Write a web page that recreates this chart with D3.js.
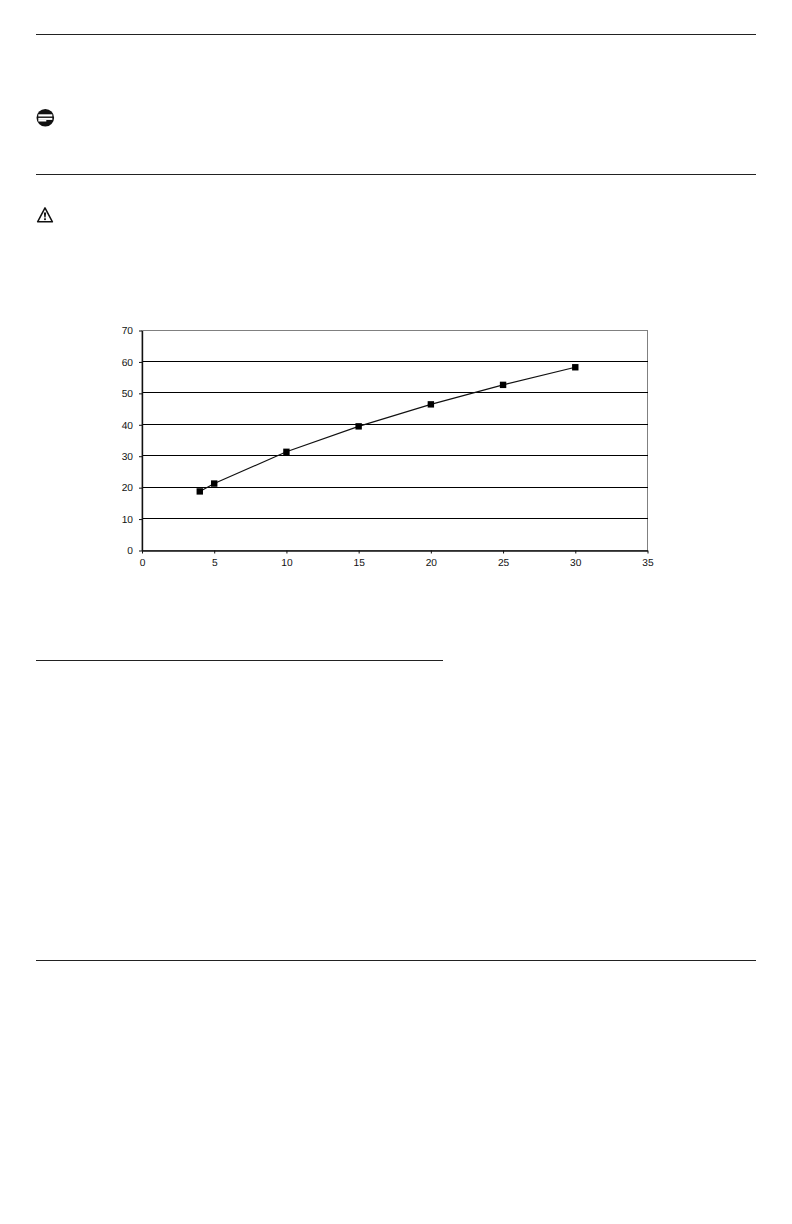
<!DOCTYPE html>
<html>
<head>
<meta charset="utf-8">
<style>
  html, body { margin: 0; padding: 0; background: #fff; }
  svg { display: block; }
  text { font-family: "Liberation Sans", Arial, sans-serif; text-rendering: geometricPrecision; }
</style>
</head>
<body>
<svg id="container" width="792" height="1224"></svg>

<script src="https://d3js.org/d3.v7.min.js"></script>
<script>
  // values
  const xValues = [4, 5, 10, 15, 20, 25, 30]
  const yValues = [18.8, 21.3, 31.4, 39.5, 46.5, 52.7, 58.3]
  const xTicks = [0, 5, 10, 15, 20, 25, 30, 35]
  const yTicks = [0, 10, 20, 30, 40, 50, 60, 70]

  const svg = d3.select('#container')

  // page rules
  const rules = [
    { y: 34.5, x1: 36, x2: 756 },
    { y: 174.5, x1: 36, x2: 756 },
    { y: 660.5, x1: 36, x2: 443 },
    { y: 960.5, x1: 36, x2: 756 }
  ]
  svg.selectAll('.rule')
    .data(rules)
    .enter()
    .append('line')
    .attr('class', 'rule')
    .attr('x1', d => d.x1)
    .attr('x2', d => d.x2)
    .attr('y1', d => d.y)
    .attr('y2', d => d.y)
    .attr('stroke', '#222')
    .attr('stroke-width', 1)

  // note icon
  const note = svg.append('g').attr('transform', 'translate(45.3,117.7)')
  note.append('circle').attr('r', 8.8).attr('fill', '#111')
  note.append('rect').attr('x', -7).attr('y', -3.4).attr('width', 14).attr('height', 2.2).attr('fill', '#fff')
  note.append('rect').attr('x', -7).attr('y', 0.2).attr('width', 14).attr('height', 2).attr('fill', '#fff')
  note.append('rect').attr('x', -7).attr('y', 2.2).attr('width', 8).attr('height', 1.6).attr('fill', '#fff')

  // warning icon
  const warn = svg.append('g').attr('transform', 'translate(45,215)')
  warn.append('path').attr('d', 'M0,-7.2 L7.4,6.8 L-7.4,6.8 Z')
    .attr('fill', 'none').attr('stroke', '#111').attr('stroke-width', 1.5).attr('stroke-linejoin', 'round')
  warn.append('path').attr('d', 'M-1.2,-2.5 L1.2,-2.5 L0.6,2.5 L-0.6,2.5 Z').attr('fill', '#111')
  warn.append('rect').attr('x', -0.9).attr('y', 3.3).attr('width', 1.8).attr('height', 1.8).attr('fill', '#111')

  // chart
  const x = d3.scaleLinear().domain([0, 35]).range([142, 647.5])
  const y = d3.scaleLinear().domain([0, 70]).range([550.5, 330.5])

  // plot frame
  svg.append('rect')
    .attr('x', x(0))
    .attr('y', y(70))
    .attr('width', x(35) - x(0))
    .attr('height', y(0) - y(70))
    .attr('fill', 'none')
    .attr('stroke', '#808080')
    .attr('stroke-width', 1)

  // gridlines, snapped to the pixel grid so they all weigh the same
  svg.selectAll('.grid')
    .data(yTicks.filter(d => d > 0 && d < 70))
    .enter()
    .append('line')
    .attr('class', 'grid')
    .attr('x1', x(0))
    .attr('x2', x(35))
    .attr('y1', d => y(d) - 0.4)
    .attr('y2', d => y(d) - 0.4)
    .attr('stroke', '#000')
    .attr('stroke-width', 1)
    .attr('shape-rendering', 'crispEdges')

  // axes
  const xAxis = svg.append('g')
    .attr('transform', `translate(0,${y(0)})`)
    .call(d3.axisBottom(x).tickValues(xTicks).tickSize(3).tickPadding(5).tickSizeOuter(0))
  const yAxis = svg.append('g')
    .attr('transform', `translate(${x(0)},0)`)
    .call(d3.axisLeft(y).tickValues(yTicks).tickSize(3).tickPadding(6).tickSizeOuter(0))

  xAxis.selectAll('line, path').attr('stroke', '#111').attr('stroke-width', 1)
  yAxis.selectAll('line, path').attr('stroke', '#111').attr('stroke-width', 1)
  xAxis.select('.domain').attr('stroke-width', 1.3)
  yAxis.select('.domain').attr('stroke-width', 1.4)
  svg.selectAll('.tick text')
    .style('font-family', '"Liberation Sans", Arial, sans-serif')
    .style('font-size', '10.2px')
    .attr('fill', '#111')

  // series
  const points = xValues.map((v, i) => [v, yValues[i]])
  const line = d3.line().x(d => x(d[0])).y(d => y(d[1]))

  svg.append('path')
    .attr('d', line(points))
    .attr('fill', 'none')
    .attr('stroke', '#111')
    .attr('stroke-width', 1.1)

  svg.selectAll('.marker')
    .data(points)
    .enter()
    .append('rect')
    .attr('class', 'marker')
    .attr('x', d => x(d[0]) - 3.2)
    .attr('y', d => y(d[1]) - 3.2)
    .attr('width', 6.4)
    .attr('height', 6.4)
    .attr('fill', '#000')
</script>
</body>
</html>
